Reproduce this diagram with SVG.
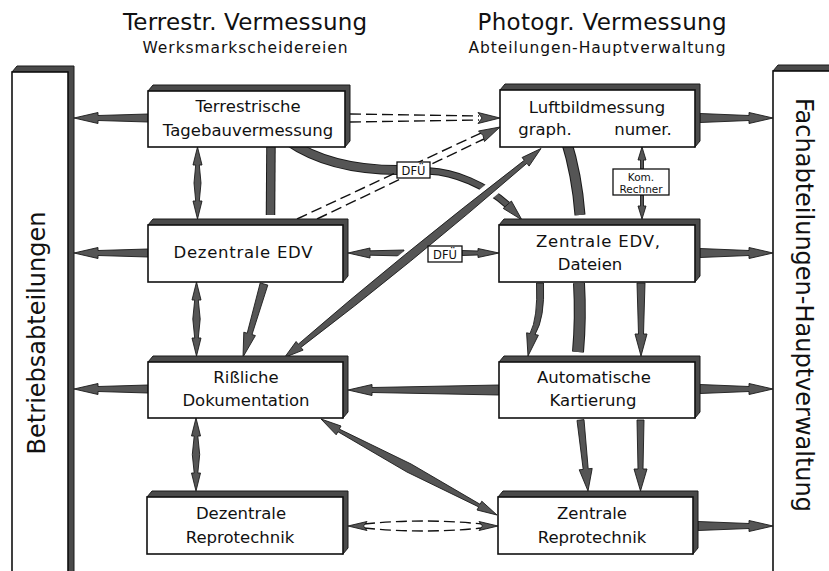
<svg xmlns="http://www.w3.org/2000/svg" width="829" height="571" viewBox="0 0 829 571">
<style>
.sh{fill:#4a4a4a;stroke:#1a1a1a;stroke-width:1;stroke-linejoin:round}
.bx{fill:#fff;stroke:#111;stroke-width:1.6}
.ar{fill:#555;stroke:#1a1a1a;stroke-width:0.9;stroke-linejoin:round}
.bo{fill:none;stroke:#1a1a1a}
.bi{fill:none;stroke:#555}
.ds{fill:none;stroke:#111;stroke-width:1.4;stroke-dasharray:11 5}
.t{font-family:"DejaVu Sans",sans-serif;fill:#111;text-anchor:middle}
.n{font-size:16.5px}
.s{font-size:11.5px}
</style>
<rect width="829" height="571" fill="#fff"/>

<g id="headers">
<text class="t" x="245" y="30" font-size="23" textLength="244">Terrestr. Vermessung</text>
<text class="t" x="245" y="53" font-size="15.5" textLength="205">Werksmarkscheidereien</text>
<text class="t" x="602" y="30" font-size="23" textLength="249">Photogr. Vermessung</text>
<text class="t" x="597" y="53" font-size="15.5" textLength="257">Abteilungen-Hauptverwaltung</text>
</g>

<g id="betriebsabteilungen">
<path class="sh" d="M12,72 L17,66 L74,66 L74,580 L68,580 L68,72 Z"/>
<rect class="bx" x="12" y="72" width="56" height="510"/>
<text class="t" font-size="24" transform="translate(45,333) rotate(-90)">Betriebsabteilungen</text>
</g>

<g id="fachabteilungen">
<path class="sh" d="M773,71 L778,65 L840,65 L840,71 Z"/>
<rect class="bx" x="773" y="71" width="70" height="510"/>
<text class="t" font-size="24" transform="translate(796,305) rotate(90)">Fachabteilungen-Hauptverwaltung</text>
</g>

<g id="connectors">
<!-- thick bands without heads -->
<path class="bo" stroke-width="9.5" d="M271,140 L270.5,215"/>
<path class="bi" stroke-width="7.5" d="M271,140 L270.5,215"/>
<path class="bo" stroke-width="11" d="M566,140 Q577,175 580,215"/>
<path class="bi" stroke-width="9" d="M566,140 Q577,175 580,215"/>
<path class="bo" stroke-width="12" d="M579,283 Q581,318 578,352"/>
<path class="bi" stroke-width="10" d="M579,283 Q581,318 578,352"/>

<!-- Terrestrische -> DFU -> Zentrale EDV -->
<path class="bo" stroke-width="10" d="M288,141 Q330,170 398,170"/>
<path class="bi" stroke-width="8" d="M288,141 Q330,170 398,170"/>
<path class="bo" stroke-width="7.5" d="M429,171 C455,172 485,185 507.3,204.7"/>
<path class="bi" stroke-width="5.5" d="M429,171 C455,172 485,185 507.3,204.7"/>
<path class="ar" d="M511.4,201 L522,220 L503.2,208.4 Z"/>

<!-- arrows to Betriebsabteilungen -->
<path class="ar" d="M148,114 L98,115.5 L98,112.5 L74,118 L98,123.5 L98,120.5 L148,122 Z"/>
<path class="ar" d="M148,249 L98,250.5 L98,247.5 L74,253 L98,258.5 L98,255.5 L148,257 Z"/>
<path class="ar" d="M148,385 L98,386.5 L98,383.5 L74,389 L98,394.5 L98,391.5 L148,393 Z"/>

<!-- arrows to Fachabteilungen -->
<path class="ar" d="M700,113.5 L749,115.5 L749,112.5 L773,118 L749,123.5 L749,120.5 L700,122.5 Z"/>
<path class="ar" d="M700,248.5 L749,250.5 L749,247.5 L773,253 L749,258.5 L749,255.5 L700,257.5 Z"/>
<path class="ar" d="M700,384.5 L749,386.5 L749,383.5 L773,389 L749,394.5 L749,391.5 L700,393.5 Z"/>
<path class="ar" d="M698,521.5 L749,523.5 L749,520.5 L773,526 L749,531.5 L749,528.5 L698,530.5 Z"/>

<!-- Automatische Kartierung -> Rissliche Dokumentation -->
<path class="ar" d="M499,385 L372,387.5 L372,384.5 L348,390 L372,395.5 L372,392.5 L499,395 Z"/>

<!-- Dezentrale EDV <- DFU -> Zentrale EDV -->
<path class="ar" d="M404,250 L370,250.8 L370,248 L348,253 L370,258 L370,255.2 L404,256 Z"/>
<path class="ar" d="M462,250.5 L478,251 L478,248.5 L499,253 L478,257.5 L478,255 L462,255.5 Z"/>

<!-- vertical double arrows left column -->
<path class="ar" d="M197.5,147 L202,165 L199.3,165 L201,183 L199.3,201 L202,201 L197.5,219 L193,201 L195.7,201 L194,183 L195.7,165 L193,165 Z"/>
<path class="ar" d="M196.5,282 L201,300 L198.3,300 L200.2,319 L198.3,338 L201,338 L196.5,356 L192,338 L194.7,338 L192.8,319 L194.7,300 L192,300 Z"/>
<path class="ar" d="M196,418 L200.5,436 L197.8,436 L199.7,454.5 L197.8,473 L200.5,473 L196,491 L191.5,473 L194.2,473 L192.3,454.5 L194.2,436 L191.5,436 Z"/>

<!-- Dezentrale EDV -> Rissliche -->
<path class="ar" d="M260.2,282.9 L247.2,333.2 L243.8,332.2 L243,357 L255.4,335.6 L252,334.6 L267.8,285.1 Z"/>

<!-- Zentrale EDV -> Automatische Kartierung -->
<path class="ar" d="M536.5,283 Q538,318 530,333.5 L526.6,332.8 L528,356 L538.4,335.2 L535,334.5 Q545,318 543.5,283 Z"/>
<path class="ar" d="M637,283 L638.5,334 L635,334 L641,356 L647,334 L643.5,334 L645,283 Z"/>

<!-- Automatische Kartierung -> Zentrale Reprotechnik -->
<path class="ar" d="M577,420.4 L583.2,469.4 L579.2,469.8 L588,491 L592.2,468.4 L588.2,468.8 L584,419.6 Z"/>
<path class="ar" d="M637,420 L638,469 L634,469 L640.5,491 L647,469 L643,469 L644,420 Z"/>

<!-- Rissliche <-> Zentrale Reprotechnik -->
<path class="ar" d="M321,419 L336.2,434.8 L337.9,431.7 L406.9,472 L478.7,506.9 L477,510 L497,515 L481.8,501.2 L480.1,504.3 L411.1,464 L339.3,429.1 L341,426 Z"/>

<!-- Kom. Rechner double arrow -->
<path class="ar" d="M642,147 L646,160 L643.5,160 L643.5,169 L640.5,169 L640.5,160 L638,160 Z"/>
<path class="ar" d="M640.5,195 L643.5,195 L643.5,206 L646,206 L642,219 L638,206 L640.5,206 Z"/>

<!-- dashed double lines -->
<path class="ds" d="M350,114 L479,116 M350,122 L479,120"/>
<path class="ar" d="M478,112.5 L500,118 L478,123.5 L482,118 Z"/>
<path class="ds" d="M297,219 L481,133 M317,219 L484,139"/>
<path class="ar" d="M478.5,131 L500,127 L484.5,141.5 L483,135.5 Z"/>
<path class="ds" d="M364,524 Q423,518 482,524 M364,528 Q423,534 482,528"/>
<path class="ar" d="M348,526 L367,521.5 L363.5,526 L367,530.5 Z"/>
<path class="ar" d="M498,526 L479,521.5 L482.5,526 L479,530.5 Z"/>

<!-- Luftbildmessung <-> Rissliche Dokumentation (crossing over) -->
<path fill="none" stroke="#fff" stroke-width="15" d="M302,344 Q403,262 524,163"/>
<path class="ar" d="M284.5,357.5 L303.1,350.1 L300.9,347.4 Q407.1,267 526.9,163.3 L529.1,166.1 L541,148.5 L522.1,157.5 L524.3,160.3 Q398.9,257 298.3,344.2 L296.1,341.5 Z"/>

<!-- connector labels -->
<g id="dfu1">
<rect x="397" y="162" width="33" height="16" fill="#fff" stroke="#111" stroke-width="1.3"/>
<text class="t s" x="413.5" y="175">DFÜ</text>
</g>
<g id="dfu2">
<rect x="428" y="246" width="34" height="16" fill="#fff" stroke="#111" stroke-width="1.3"/>
<text class="t s" x="445" y="259">DFÜ</text>
</g>
<g id="kom-rechner">
<rect x="613" y="169" width="56" height="26" fill="#fff" stroke="#111" stroke-width="1.3"/>
<text class="t" font-size="10.5" x="641" y="181">Kom.</text>
<text class="t" font-size="10.5" x="641" y="192.5">Rechner</text>
</g>
</g>

<g id="terrestrische">
<path class="sh" d="M148,91 L153,85 L350,85 L350,141 L345,147 Z"/>
<rect class="bx" x="148" y="91" width="197" height="56"/>
<text class="t n" x="248" y="112">Terrestrische</text>
<text class="t n" x="248" y="136">Tagebauvermessung</text>
</g>
<g id="luftbildmessung">
<path class="sh" d="M500,90 L505,84 L700,84 L700,141 L695,147 Z"/>
<rect class="bx" x="500" y="90" width="195" height="57"/>
<text class="t n" x="597" y="113">Luftbildmessung</text>
<text class="t n" x="545" y="135">graph.</text>
<text class="t n" x="643" y="135">numer.</text>
</g>
<g id="dezentrale-edv">
<path class="sh" d="M148,225 L153,219 L348,219 L348,276 L343,282 Z"/>
<rect class="bx" x="148" y="225" width="195" height="57"/>
<text class="t n" x="243" y="258" textLength="139">Dezentrale EDV</text>
</g>
<g id="zentrale-edv">
<path class="sh" d="M499,225 L504,219 L700,219 L700,276 L695,282 Z"/>
<rect class="bx" x="499" y="225" width="196" height="57"/>
<text class="t n" x="598" y="247" textLength="124">Zentrale EDV,</text>
<text class="t n" x="590" y="270">Dateien</text>
</g>
<g id="rissliche-dokumentation">
<path class="sh" d="M148,362 L153,356 L348,356 L348,412 L343,418 Z"/>
<rect class="bx" x="148" y="362" width="195" height="56"/>
<text class="t n" x="246" y="383">Rißliche</text>
<text class="t n" x="246" y="406">Dokumentation</text>
</g>
<g id="automatische-kartierung">
<path class="sh" d="M499,362 L504,356 L700,356 L700,412 L695,418 Z"/>
<rect class="bx" x="499" y="362" width="196" height="56"/>
<text class="t n" x="594" y="383">Automatische</text>
<text class="t n" x="593" y="406">Kartierung</text>
</g>
<g id="dezentrale-reprotechnik">
<path class="sh" d="M147,497 L152,491 L348,491 L348,548 L343,554 Z"/>
<rect class="bx" x="147" y="497" width="196" height="57"/>
<text class="t n" x="241" y="519">Dezentrale</text>
<text class="t n" x="240" y="543">Reprotechnik</text>
</g>
<g id="zentrale-reprotechnik">
<path class="sh" d="M498,497 L503,491 L698,491 L698,548 L693,554 Z"/>
<rect class="bx" x="498" y="497" width="195" height="57"/>
<text class="t n" x="592" y="519">Zentrale</text>
<text class="t n" x="592" y="543">Reprotechnik</text>
</g>
</svg>
